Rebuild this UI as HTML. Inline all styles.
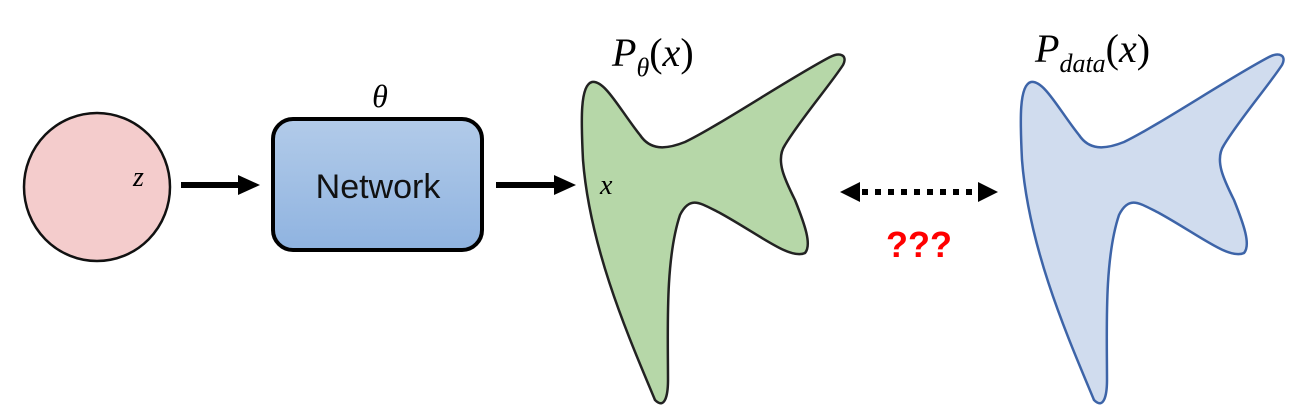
<!DOCTYPE html>
<html><head><meta charset="utf-8"><style>
html,body{margin:0;padding:0;background:#fff;}
svg{display:block;}
.m{font-family:"Liberation Serif",serif;font-style:italic;}
</style></head><body>
<svg width="1310" height="419" viewBox="0 0 1310 419">
<defs>
<linearGradient id="bg" x1="0" y1="0" x2="0" y2="1"><stop offset="0" stop-color="#b2cbe9"/><stop offset="1" stop-color="#8fb3e0"/></linearGradient>
</defs>
<ellipse cx="97" cy="187" rx="73" ry="74" fill="#f4cccc" stroke="#111" stroke-width="2.5"/>
<text x="133" y="186" class="m" font-size="28">z</text>
<line x1="181" y1="185" x2="240" y2="185" stroke="#000" stroke-width="6"/>
<polygon points="238,175 260,185 238,195" fill="#000"/>
<rect x="273" y="119" width="209" height="131" rx="20" fill="url(#bg)" stroke="#000" stroke-width="4"/>
<text x="378" y="198" font-family="Liberation Sans,sans-serif" font-size="34" text-anchor="middle" fill="#111">Network</text>
<text x="380" y="107" class="m" font-size="32" text-anchor="middle">θ</text>
<line x1="496" y1="185" x2="556" y2="185" stroke="#000" stroke-width="6"/>
<polygon points="554,175 576,185 554,195" fill="#000"/>
<path d="M592,82 C580,85 581,120 583,160 C590,250 630,340 655,400 C665,410 668,395 668,380 C668,330 665,260 680,215 C690,195 700,203 720,213 C760,235 790,260 805,253 C812,245 805,225 795,200 C785,180 775,160 785,145 C800,120 830,85 843,65 C848,55 840,52 830,57 C790,78 720,125 685,142 C665,150 650,150 640,135 C620,110 605,80 592,82 Z" fill="#b6d7a8" stroke="#222" stroke-width="2.5"/>
<text x="600" y="194" class="m" font-size="28">x</text>
<text x="612" y="66" class="m" font-size="40">P<tspan font-size="26" dy="10">θ</tspan><tspan dy="-10" font-style="normal">(</tspan>x<tspan font-style="normal">)</tspan></text>
<path d="M592,82 C580,85 581,120 583,160 C590,250 630,340 655,400 C665,410 668,395 668,380 C668,330 665,260 680,215 C690,195 700,203 720,213 C760,235 790,260 805,253 C812,245 805,225 795,200 C785,180 775,160 785,145 C800,120 830,85 843,65 C848,55 840,52 830,57 C790,78 720,125 685,142 C665,150 650,150 640,135 C620,110 605,80 592,82 Z" transform="translate(439,0)" fill="#d0dcee" stroke="#3d64a8" stroke-width="2.5"/>
<text x="1035" y="62" class="m" font-size="40">P<tspan font-size="26" dy="10">data</tspan><tspan dy="-10" font-style="normal">(</tspan>x<tspan font-style="normal">)</tspan></text>
<polygon points="840,192 860,182 860,202" fill="#000"/>
<polygon points="998,192 978,182 978,202" fill="#000"/>
<line x1="862" y1="192" x2="976" y2="192" stroke="#000" stroke-width="6" stroke-dasharray="6,7"/>
<text x="919" y="257" font-family="Liberation Sans,sans-serif" font-weight="bold" font-size="36" fill="#f00" text-anchor="middle">???</text>
</svg>
</body></html>
